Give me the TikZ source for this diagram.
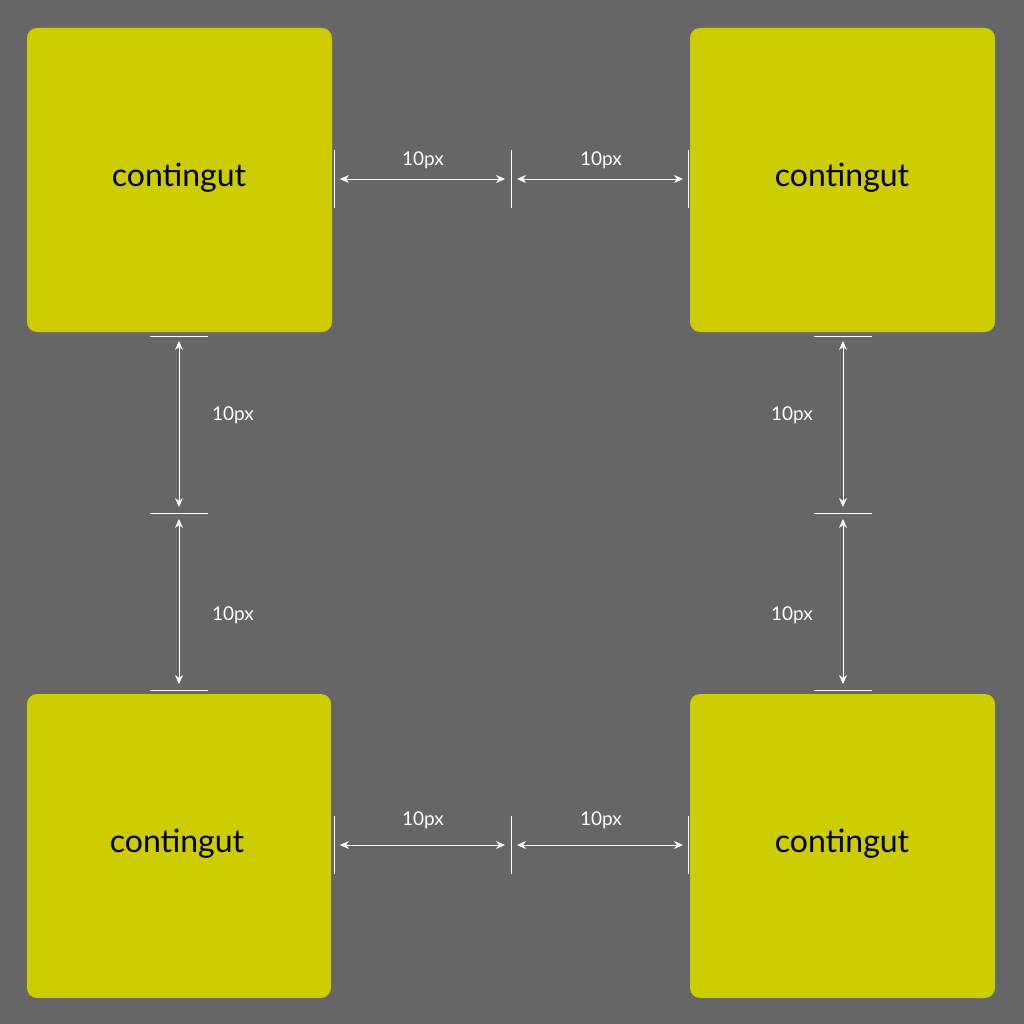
\documentclass[tikz,border=0pt]{standalone}
\usepackage{fontspec}
\setmainfont{Lato}
\usetikzlibrary{arrows.meta}
\definecolor{bg}{HTML}{666666}
\definecolor{box}{HTML}{CCCC00}
\begin{document}
\begin{tikzpicture}[x=1pt,y=-1pt,
      cell/.style={fill=box,rounded corners=10pt},
      gap/.style={white,thick,{Stealth[length=9pt,width=8pt]}-{Stealth[length=9pt,width=8pt]}},
      tick/.style={white,thin},
      dim/.style={white,font=\fontsize{19}{19}\selectfont},
      word/.style={font=\fontsize{32}{32}\selectfont}
    ]
    \fill[bg] (0,0) rectangle (1024,1024);
    % boxes
    \fill[cell] (27,28) rectangle (332,332);
    \fill[cell] (690,28) rectangle (995,332);
    \fill[cell] (27,694) rectangle (331,998);
    \fill[cell] (690,694) rectangle (995,998);
    \node[word] (tl) at (179,178) {contingut};
    \node[word] (tr) at (842,178) {contingut};
    \node[word] (bl) at (177,844) {contingut};
    \node[word] (br) at (842,844) {contingut};
    % horizontal gaps
    \foreach \y/\ly in {179/160,845/820}{
      \foreach \x in {334,511,688}
        \draw[tick] (\x,\y-29) -- (\x,\y+29);
      \coordinate (a) at (340,\y); \coordinate (b) at (505,\y);
      \coordinate (c) at (517,\y); \coordinate (d) at (683,\y);
      \draw[gap] (a) -- (b);
      \draw[gap] (c) -- (d);
      \node[dim] at (423,\ly) {10px};
      \node[dim] at (601,\ly) {10px};
    }
    % vertical gaps
    \foreach \x/\lx in {179/233,843/792}{
      \foreach \y in {336,513,690}
        \draw[tick] (\x-29,\y) -- (\x+29,\y);
      \coordinate (a) at (\x,341); \coordinate (b) at (\x,507);
      \coordinate (c) at (\x,519); \coordinate (d) at (\x,684);
      \draw[gap] (a) -- (b);
      \draw[gap] (c) -- (d);
      \node[dim] at (\lx,415) {10px};
      \node[dim] at (\lx,615) {10px};
    }
\end{tikzpicture}
\end{document}
